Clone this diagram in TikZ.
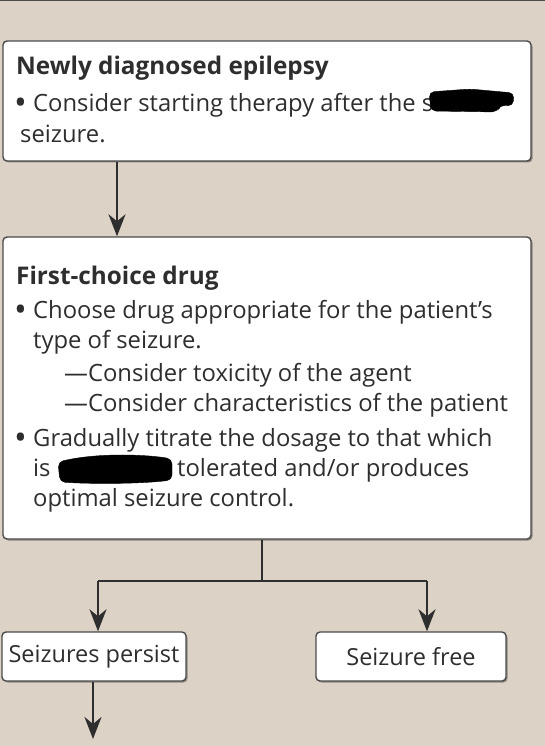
\documentclass[tikz,border=0pt]{standalone}
\usepackage{fontspec}
\setmainfont{Open Sans}
\usetikzlibrary{arrows.meta,shadows,calc}
\definecolor{bg}{HTML}{DCD2C6}
\definecolor{edge}{HTML}{4A4A4A}
\definecolor{ink}{HTML}{2E2E2E}
\tikzset{
  box/.style={draw=edge, line width=1.4pt, fill=white, rounded corners=4pt, inner sep=0pt,
    drop shadow={shadow xshift=1.5pt, shadow yshift=-1.5pt, opacity=0.35, fill=black}},
  txt/.style={anchor=base west, inner sep=0pt, text=ink, font=\fontsize{23.8}{28}\selectfont},
  ttl/.style={txt, font=\fontsize{24.3}{28}\selectfont\bfseries},
  bul/.style={anchor=base west, inner sep=0pt, text=ink, font=\fontsize{34}{34}\selectfont},
  ctr/.style={inner sep=0pt, text=ink, font=\fontsize{23.5}{28}\selectfont},
  conn/.style={draw=ink, line width=2.2pt},
  arr/.style={conn, -{Stealth[length=22pt, width=17pt, inset=7pt]}},
  blot/.style={fill=black, rounded corners=5pt}
}
\begin{document}
\begin{tikzpicture}[x=1pt, y=-1pt]
\fill[bg] (0,0) rectangle (545,746);
\useasboundingbox (0,0) rectangle (545,746);
\fill[edge] (0,0) rectangle (545,1.5);

% boxes
\node[box, minimum width=528pt, minimum height=120pt] (box1) at (267,101) {};
\node[box, minimum width=528pt, minimum height=302pt] (box2) at (267,388) {};
\node[box, minimum width=184pt, minimum height=49pt] (persist) at (94,656.5) {};
\node[box, minimum width=190pt, minimum height=49pt] (free) at (411,656.5) {};

% box 1 text
\node[ttl] (t1) at (16,75) {Newly diagnosed epilepsy};
\node[bul] (b1) at (14,115) {•};
\node[txt] (l1) at (33,112) {Consider starting therapy after the s};
\node[txt] (l2) at (20,143) {seizure.};
\draw[blot] (429,92) -- (470,89) -- (514,93) -- (513,106) -- (500,105) -- (497,112) -- (431,111) -- cycle;

% box 2 text
\node[ttl] (t2) at (16,284) {First-choice drug};
\node[bul] (b2) at (14,321) {•};
\node[txt] (m1) at (33,318) {Choose drug appropriate for the patient's};
\node[txt] (m2) at (33,348) {type of seizure.};
\node[txt] (m3) at (64,381) {—Consider toxicity of the agent};
\node[txt] (m4) at (64,411) {—Consider characteristics of the patient};
\node[bul] (b3) at (14,449) {•};
\node[txt] (m5) at (33,446) {Gradually titrate the dosage to that which};
\node[txt] (m6) at (33,476) {is};
\node[txt] (m7) at (177,476) {tolerated and/or produces};
\node[txt] (m8) at (33,506) {optimal seizure control.};
\draw[blot] (58,462) .. controls (100,452) and (150,455) .. (172,459) -- (172,480) .. controls (140,484) and (90,484) .. (60,482) -- cycle;

% small box texts
\node[ctr] at (persist.center) {Seizures persist};
\node[ctr] at (free.center) {Seizure free};

% connectors
\coordinate (c1) at (117,0);
\draw[arr] (c1 |- box1.south) -- (c1 |- box2.north);
\coordinate (j) at (262,581);
\coordinate (jl) at (98,581);
\coordinate (jr) at (427,581);
\draw[conn] (j |- box2.south) -- (j);
\draw[conn] (jl) -- (jr);
\draw[arr] (jl) -- (jl |- persist.north);
\draw[arr] (jr) -- (jr |- free.north);
\coordinate (endp) at (93,739);
\draw[arr] (endp |- persist.south) -- (endp);
\end{tikzpicture}
\end{document}
